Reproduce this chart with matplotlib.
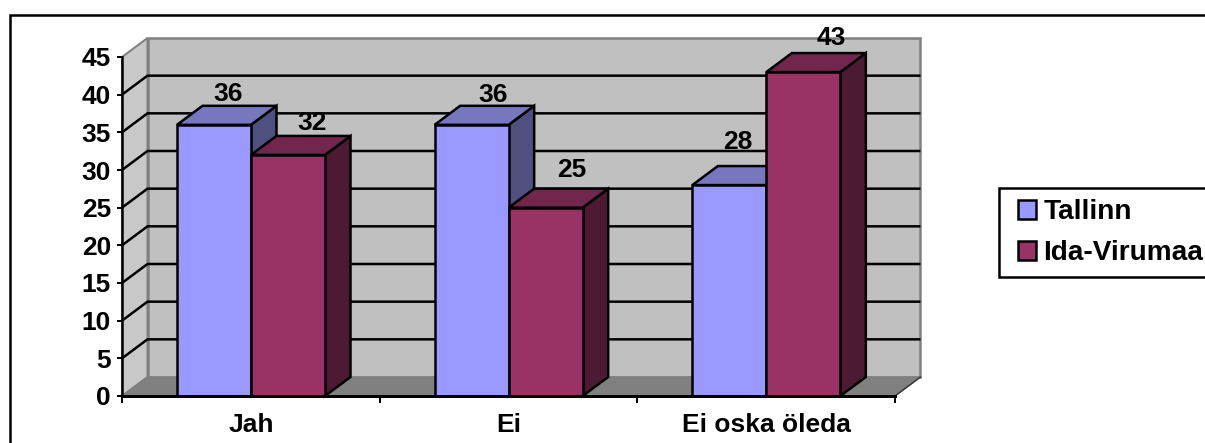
import matplotlib
matplotlib.use("Agg")
import matplotlib.pyplot as plt
from matplotlib.patches import Polygon, Patch, Rectangle
from matplotlib.lines import Line2D
from matplotlib.legend_handler import HandlerPatch

categories = ["Jah", "Ei", "Ei oska öleda"]
series_names = ["Tallinn", "Ida-Virumaa"]
tallinn = [36, 36, 28]
ida_virumaa = [32, 25, 43]
y_ticks = [0, 5, 10, 15, 20, 25, 30, 35, 40, 45]

W, H = 1205, 443
px = 1 / W
py = 1 / H
LW = 2 * 72 / 100  # 2 px
BLW = 2.5 * 72 / 100
FS = 19

plt.rcParams["font.family"] = ["Liberation Sans", "DejaVu Sans"]
plt.rcParams["font.weight"] = "bold"

fig = plt.figure(figsize=(W / 100, H / 100), dpi=100, facecolor="white")
ax = fig.add_axes([122 * px, 1 - 396 * py, 773 * px, 339 * py])
ax.set_xlim(0, len(categories))
ax.set_ylim(0, 45)
ax.patch.set_visible(False)

# depth of the pseudo-3D box, in data units
DX = 25.5 / (773 / 3)
DY = 19 / (339 / 45)
N = len(categories)
TOP = y_ticks[-1]
GREY = "#808080"


def poly(pts, fc, ec="black", lw=BLW, z=2):
    ax.add_patch(Polygon(pts, closed=True, facecolor=fc, edgecolor=ec, linewidth=lw,
                         zorder=z, clip_on=False, joinstyle="miter"))


# walls and floor
poly([(DX, DY), (N + DX, DY), (N + DX, TOP + DY), (DX, TOP + DY)], "#C0C0C0", GREY, lw=BLW, z=1)
poly([(0, 0), (DX, DY), (DX, TOP + DY), (0, TOP)], "#C8C8C8", GREY, lw=LW, z=1)
poly([(0, 0), (N, 0), (N + DX, DY), (DX, DY)], GREY, GREY, lw=1, z=1.2)
ax.plot([N, N + DX], [0, DY], color="#333333", lw=1, zorder=1.3, clip_on=False)

# gridlines
for v in y_ticks[1:-1]:
    ax.plot([0, DX, N + DX - 0.005], [v, v + DY, v + DY], color="black", lw=BLW,
            zorder=1.5, clip_on=False, solid_joinstyle="miter")

# bars
GAP = 55 / (773 / 3)
BAR = 74 / (773 / 3)
styles = [("#9999FF", "#7777BF", "#505080"), ("#993366", "#73264D", "#4D1A33")]
all_values = [tallinn, ida_virumaa]
label_offsets = [[(14, 31), (21, 30), (8, 43)], [(24, 32), (26, 37.5), (28, 34)]]

for c in range(N):
    for s, values in enumerate(all_values):
        v = values[c]
        x0 = c + GAP + s * BAR
        x1 = x0 + BAR
        front, top, side = styles[s]
        poly([(x1, 0), (x1 + DX, DY), (x1 + DX, v + DY), (x1, v)], side, z=3 + s)
        poly([(x0, v), (x1, v), (x1 + DX, v + DY), (x0 + DX, v + DY)], top, z=3 + s)
        poly([(x0, 0), (x1, 0), (x1, v), (x0, v)], front, z=3 + s)
        ox, oy = label_offsets[s][c]
        ax.annotate(str(v), xy=((x0 + x1) / 2, v), xytext=(ox * 0.72, oy * 0.72),
                    textcoords="offset points", ha="center", va="center",
                    fontsize=FS, fontweight="bold", color="black", zorder=10,
                    annotation_clip=False)

# axes
for name in ("top", "right"):
    ax.spines[name].set_visible(False)
ax.spines["left"].set_linewidth(BLW)
ax.spines["bottom"].set_linewidth(3 * 72 / 100)
for name in ("left", "bottom"):
    ax.spines[name].set_zorder(8)
ax.set_xticks(range(N + 1))
ax.set_xticklabels([])
ax.set_xticks([i + 0.5 for i in range(N)], categories, minor=True)
ax.set_yticks(y_ticks)
ax.tick_params(axis="x", which="major", length=5, width=LW, direction="out")
ax.tick_params(axis="x", which="minor", length=0, pad=12, labelsize=FS)
ax.tick_params(axis="y", length=3.5, width=LW, pad=4.5, labelsize=FS)
for t in ax.get_xticklabels(minor=True) + ax.get_yticklabels():
    t.set_fontweight("bold")

# outer frame (right and bottom fall outside the picture)
fig.add_artist(Line2D([10 * px, 10 * px, 1.0], [0, 1 - 15 * py, 1 - 15 * py],
                      color="black", lw=BLW, transform=fig.transFigure,
                      solid_joinstyle="miter"))


# legend: square key sits at the right end of the handle box
def square_key(legend, orig_handle, xdescent, ydescent, width, height, fontsize):
    side = height
    return Rectangle((width - side - xdescent, -ydescent), side, side)


handles = [Patch(facecolor=styles[i][0], edgecolor="black", linewidth=BLW) for i in range(2)]
leg = fig.legend(handles, series_names, loc="upper left",
                 bbox_to_anchor=(999 * px, 1 - 188 * py), borderaxespad=0,
                 fancybox=False, framealpha=1, edgecolor="black",
                 handlelength=0.93, handleheight=0.65, handletextpad=0.25,
                 borderpad=0.40, labelspacing=0.53,
                 handler_map={Patch: HandlerPatch(patch_func=square_key)},
                 prop={"weight": "bold", "size": 20.2})
leg.get_frame().set_linewidth(BLW)

fig.savefig("out.png", dpi=100, facecolor="white")
